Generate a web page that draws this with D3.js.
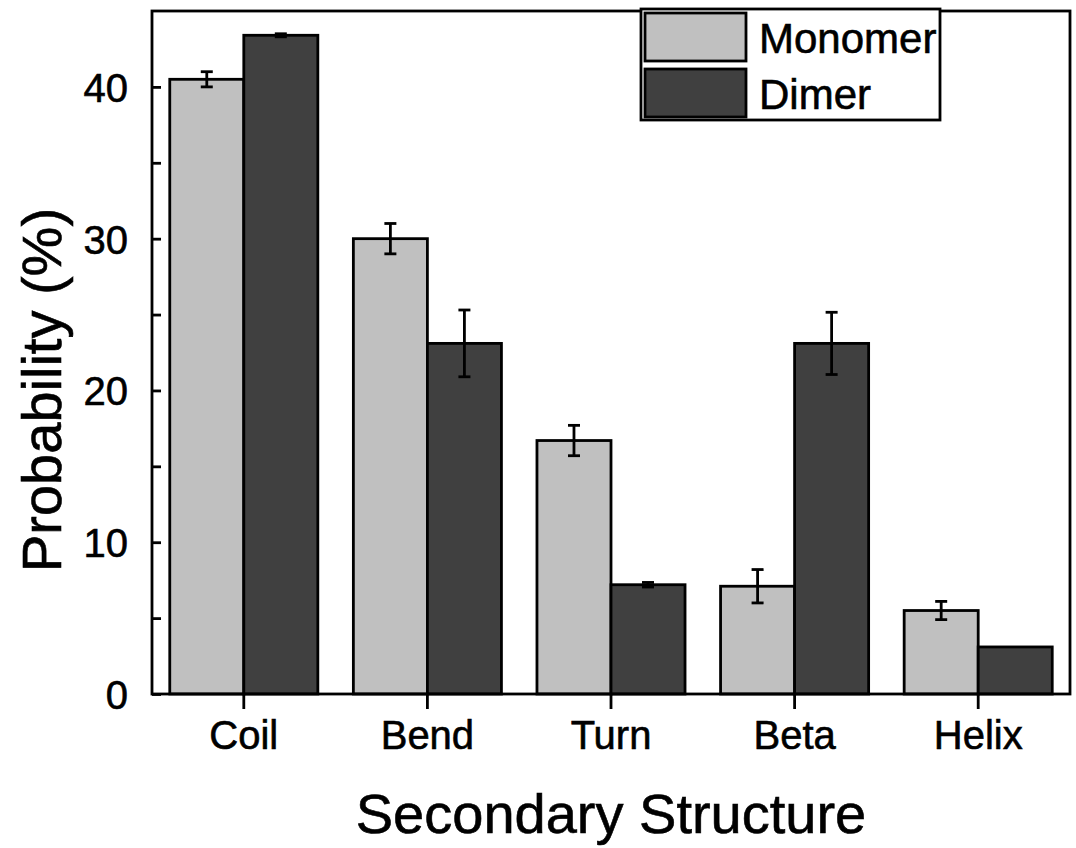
<!DOCTYPE html>
<html>
<head>
<meta charset="utf-8">
<script src="https://cdn.jsdelivr.net/npm/d3@7"></script>
<style>
  body { margin: 0; background: #fff; }
  text { font-family: "Liberation Sans", Arial, sans-serif; fill: #000; stroke: #000; stroke-width: 0.6px; }
</style>
</head>
<body>
<svg id="chart" width="1076" height="848"></svg>
<script>
// data
const categories = ["Coil", "Bend", "Turn", "Beta", "Helix"];
const seriesNames = ["Monomer", "Dimer"];
const monomer = [40.5, 30.0, 16.7, 7.1, 5.5];
const monomerErr = [0.5, 1.0, 1.0, 1.1, 0.6];
const dimer = [43.4, 23.1, 7.2, 23.1, 3.1];
const dimerErr = [0.1, 2.2, 0.15, 2.05, 0];
const yTicks = [0, 10, 20, 30, 40];
const yMinorTicks = [5, 15, 25, 35];

const colors = { Monomer: "#c0c0c0", Dimer: "#404040" };

const svg = d3.select("#chart");
const margin = { top: 11, right: 6, bottom: 154, left: 152 };
const width = 1076 - margin.left - margin.right;
const height = 848 - margin.top - margin.bottom;

const g = svg.append("g")
  .attr("transform", `translate(${margin.left},${margin.top})`);

const x0 = d3.scaleBand().domain(categories).range([0, width]).padding(0);
const x1 = d3.scaleBand().domain(seriesNames).range([0, x0.bandwidth()])
  .paddingInner(0).paddingOuter(0.24);
const y = d3.scaleLinear().domain([0, 45]).range([height, 0]);

const rows = categories.map((c, i) => ({
  cat: c,
  vals: [
    { s: "Monomer", v: monomer[i], e: monomerErr[i] },
    { s: "Dimer", v: dimer[i], e: dimerErr[i] }
  ]
}));

// bars
const grp = g.selectAll(".cat")
  .data(rows)
  .enter().append("g")
  .attr("class", "cat")
  .attr("transform", d => `translate(${x0(d.cat)},0)`);

grp.selectAll("rect")
  .data(d => d.vals)
  .enter().append("rect")
  .attr("x", d => x1(d.s))
  .attr("y", d => y(d.v))
  .attr("width", x1.bandwidth())
  .attr("height", d => height - y(d.v))
  .attr("fill", d => colors[d.s])
  .attr("stroke", "#000")
  .attr("stroke-width", 2.8);

// error bars
const eb = grp.selectAll(".err")
  .data(d => d.vals.filter(v => v.e > 0))
  .enter().append("g")
  .attr("class", "err")
  .attr("stroke", "#000")
  .attr("stroke-width", 2.8);

eb.append("line")
  .attr("x1", d => x1(d.s) + x1.bandwidth() / 2)
  .attr("x2", d => x1(d.s) + x1.bandwidth() / 2)
  .attr("y1", d => y(d.v + d.e))
  .attr("y2", d => y(d.v - d.e));
eb.append("line")
  .attr("x1", d => x1(d.s) + x1.bandwidth() / 2 - 6)
  .attr("x2", d => x1(d.s) + x1.bandwidth() / 2 + 6)
  .attr("y1", d => y(d.v + d.e))
  .attr("y2", d => y(d.v + d.e));
eb.append("line")
  .attr("x1", d => x1(d.s) + x1.bandwidth() / 2 - 6)
  .attr("x2", d => x1(d.s) + x1.bandwidth() / 2 + 6)
  .attr("y1", d => y(d.v - d.e))
  .attr("y2", d => y(d.v - d.e));

// frame
g.append("rect")
  .attr("width", width)
  .attr("height", height)
  .attr("fill", "none")
  .attr("stroke", "#000")
  .attr("stroke-width", 2.8);

// y axis (ticks inward)
const yAxis = g.append("g")
  .call(d3.axisLeft(y).tickValues(yTicks).tickSize(-9).tickPadding(24).tickFormat(d3.format("d")));
yAxis.select(".domain").remove();
yAxis.selectAll("line").attr("stroke-width", 2.8);
yAxis.selectAll("text").attr("font-size", 40).attr("dy", "0.36em");

g.append("g")
  .call(d3.axisLeft(y).tickValues(yMinorTicks).tickSize(-9).tickFormat(""))
  .call(a => a.select(".domain").remove())
  .selectAll("line").attr("stroke-width", 2.8);

// x axis (ticks outward)
const xAxis = g.append("g")
  .attr("transform", `translate(0,${height})`)
  .call(d3.axisBottom(x0).tickSize(15).tickPadding(12));
xAxis.select(".domain").remove();
xAxis.selectAll("line").attr("stroke-width", 2.8);
xAxis.selectAll("text").attr("font-size", 40);

// axis titles
svg.append("text")
  .attr("x", margin.left + width / 2)
  .attr("y", 833)
  .attr("text-anchor", "middle")
  .attr("font-size", 56)
  .text("Secondary Structure");

svg.append("text")
  .attr("transform", "translate(61,390) rotate(-90)")
  .attr("text-anchor", "middle")
  .attr("font-size", 56)
  .text("Probability (%)");

// legend
const legend = svg.append("g").attr("transform", "translate(641,9)");
legend.append("rect")
  .attr("width", 299)
  .attr("height", 111)
  .attr("fill", "#fff")
  .attr("stroke", "#000")
  .attr("stroke-width", 2.8);
seriesNames.forEach((s, i) => {
  legend.append("rect")
    .attr("x", 4)
    .attr("y", 4 + i * 56)
    .attr("width", 101)
    .attr("height", 48)
    .attr("fill", colors[s])
    .attr("stroke", "#000")
    .attr("stroke-width", 2.8);
  legend.append("text")
    .attr("x", 118)
    .attr("y", 44 + i * 56)
    .attr("font-size", 42)
    .text(s);
});
</script>
</body>
</html>
